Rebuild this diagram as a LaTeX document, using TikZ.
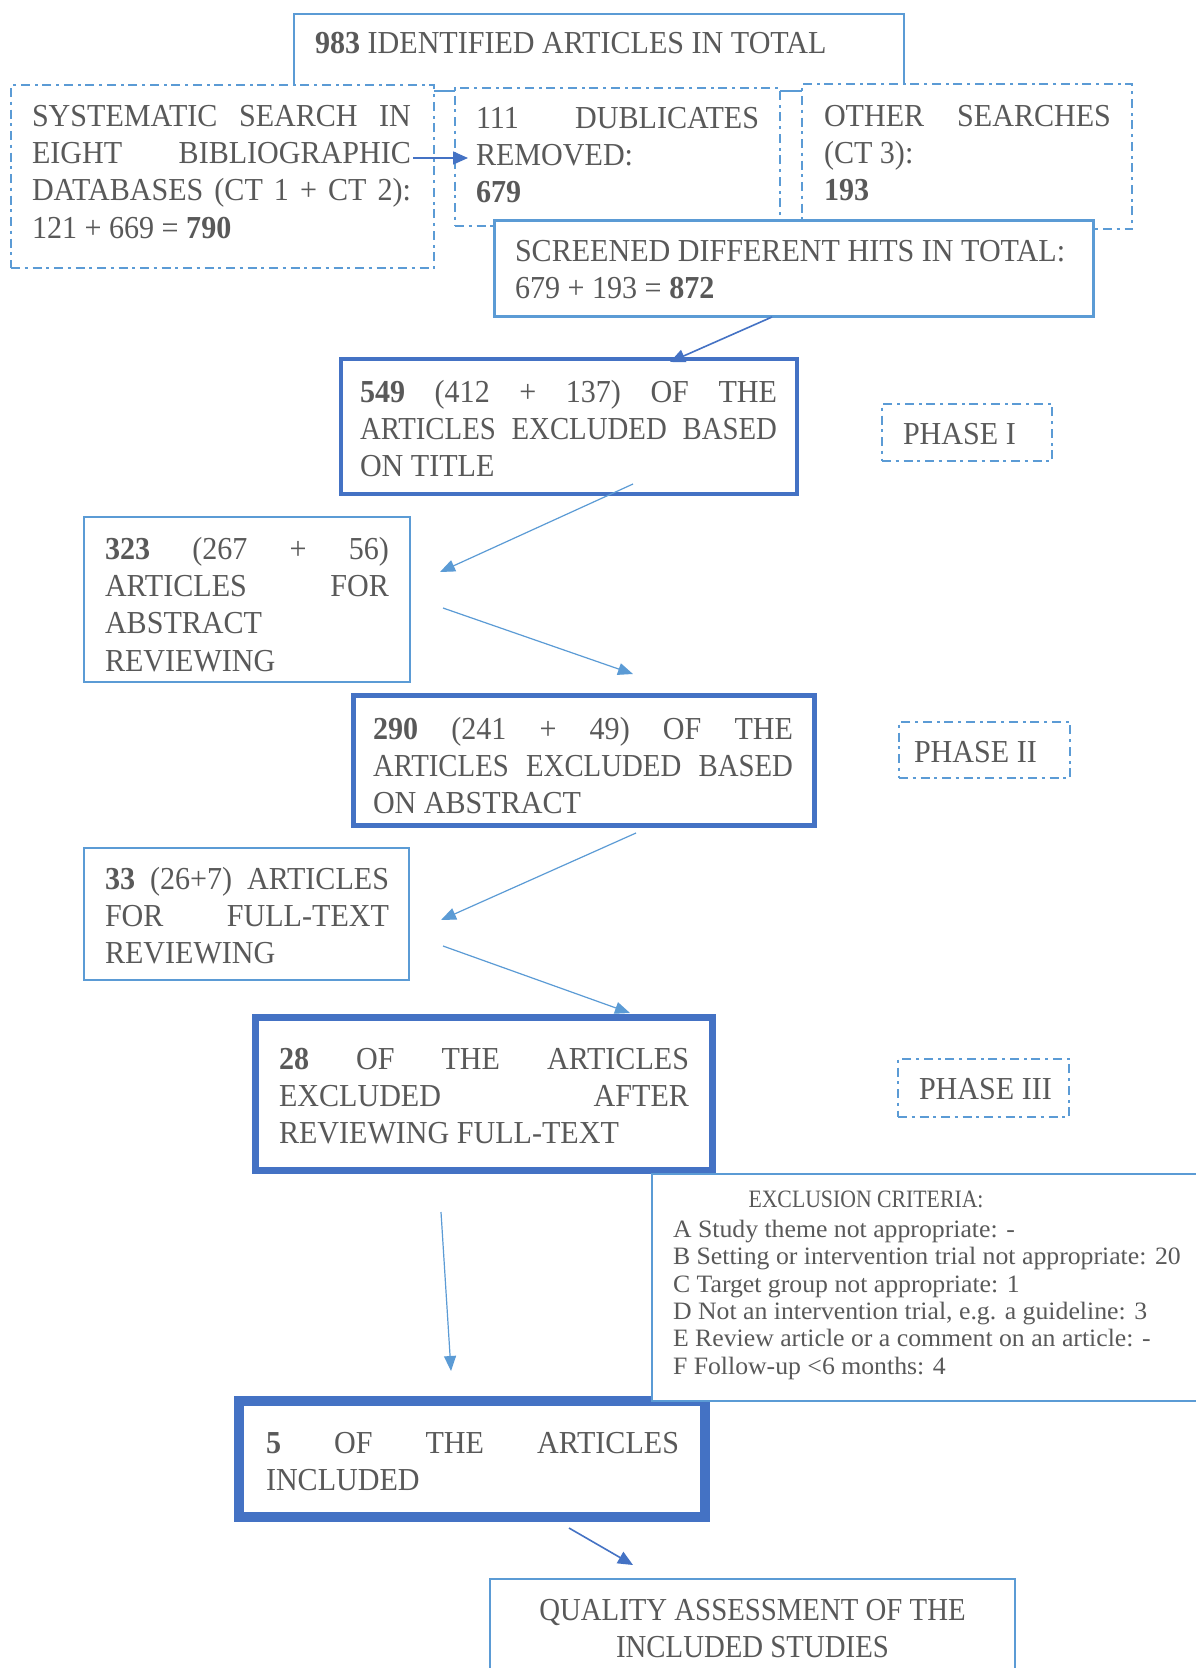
\documentclass[tikz,border=0pt]{standalone}
\usepackage{fontspec}
\setmainfont{Liberation Serif}[FakeStretch=0.94]
\newfontfamily\narrowfont{Liberation Serif}[FakeStretch=0.9]
\newfontfamily\exfont{Liberation Serif}[FakeStretch=1.03]
\newfontfamily\extitlefont{Liberation Serif}[FakeStretch=0.87]
\usetikzlibrary{arrows.meta}
\definecolor{lb}{HTML}{5B9BD5}
\definecolor{db}{HTML}{4472C4}
\definecolor{tx}{HTML}{595959}
\newcommand{\jl}[2]{\makebox[#1pt][s]{#2}}
\begin{document}
\begin{tikzpicture}[x=1pt,y=-1pt,
  box/.style={draw=lb, fill=white, inner sep=0pt, outer sep=0pt, line width=2.5pt},
  dbox/.style={box, line width=2pt, dash pattern=on 9pt off 4.5pt on 3pt off 5pt},
  thick box/.style={box, draw=db},
  txt/.style={inner sep=0pt, outer sep=0pt, anchor=north west, align=left, text=tx,
    font=\fontsize{32}{37.3}\selectfont},
  extxt/.style={inner sep=0pt, outer sep=0pt, text=tx, font=\exfont\fontsize{25}{27.4}\selectfont},
  arrd/.style={draw=db, line width=1.6pt, -{Triangle[length=15pt,width=13pt]}, db},
  arrl/.style={draw=lb, line width=1.2pt, -{Triangle[length=15pt,width=12pt]}, lb}]
\useasboundingbox (0,0) rectangle (1196,1668);
\fill[white] (0,0) rectangle (1196,1668);
\clip (0,0) rectangle (1196,1668);

% boxes
\node[box, minimum width=610pt, minimum height=77pt] (top) at (599,52.5) {};
\node[dbox, minimum width=423pt, minimum height=183pt] (sys) at (222.5,176.5) {};
\node[dbox, minimum width=325pt, minimum height=138pt] (dub) at (617.5,157) {};
\node[dbox, minimum width=330pt, minimum height=145pt] (oth) at (967,156.5) {};
\node[box, line width=3pt, minimum width=599pt, minimum height=96pt] (scr) at (793.5,268.5) {};
\node[thick box, line width=4pt, minimum width=456pt, minimum height=135pt] (b549) at (569,426.5) {};
\node[dbox, minimum width=170pt, minimum height=57pt] (ph1) at (967,432.5) {};
\node[box, minimum width=326pt, minimum height=165pt] (b323) at (247,599.5) {};
\node[thick box, line width=5pt, minimum width=461pt, minimum height=130pt] (b290) at (584,760.5) {};
\node[dbox, minimum width=171pt, minimum height=56pt] (ph2) at (984.5,750) {};
\node[box, minimum width=325pt, minimum height=132pt] (b33) at (246.5,914) {};
\node[thick box, line width=7pt, minimum width=457pt, minimum height=153pt] (b28) at (484,1094) {};
\node[dbox, minimum width=171pt, minimum height=58pt] (ph3) at (983.5,1088) {};
\node[thick box, line width=10pt, minimum width=466pt, minimum height=116pt] (b5) at (472,1459) {};
\node[box, minimum width=588pt, minimum height=227pt] (excl) at (946,1287.5) {};
\node[box, minimum width=525pt, minimum height=141pt] (qual) at (752.5,1649.5) {};

% texts
\node[txt] (topT) at (315,32) {\textbf{983} IDENTIFIED ARTICLES IN TOTAL};
\node[txt] (sysT) at (32,105) {\jl{379}{SYSTEMATIC SEARCH IN}\\ \jl{379}{EIGHT BIBLIOGRAPHIC}\\ \jl{379}{DATABASES (CT 1 + CT 2):}\\ 121 + 669 = \textbf{790}};
\node[txt] (dubT) at (476,107) {\jl{283}{111 DUBLICATES}\\ REMOVED:\\ \textbf{679}};
\node[txt] (othT) at (824,105) {\jl{287}{OTHER SEARCHES}\\ (CT 3):\\ \textbf{193}};
\node[txt] (scrT) at (515,240) {SCREENED DIFFERENT HITS IN TOTAL:\\ 679 + 193 = \textbf{872}};
\node[txt] (t549) at (360,380) {\jl{417}{\textbf{549} (412 + 137) OF THE}\\ \jl{417}{\narrowfont ARTICLES EXCLUDED BASED}\\ ON TITLE};
\node[txt] (ph1T) at (903,423) {PHASE I};
\node[txt] (t323) at (105,537) {\jl{284}{\textbf{323} (267 + 56)}\\ \jl{284}{ARTICLES FOR}\\ ABSTRACT\\ REVIEWING};
\node[txt] (t290) at (373,717) {\jl{420}{\textbf{290} (241 + 49) OF THE}\\ \jl{420}{\narrowfont ARTICLES EXCLUDED BASED}\\ ON ABSTRACT};
\node[txt] (ph2T) at (914,741) {PHASE II};
\node[txt] (t33) at (105,867) {\jl{284}{\textbf{33} (26+7) ARTICLES}\\ \jl{284}{FOR FULL-TEXT}\\ REVIEWING};
\node[txt] (t28) at (279,1048) {\jl{410}{\textbf{28} OF THE ARTICLES}\\ \jl{410}{EXCLUDED AFTER}\\ REVIEWING FULL-TEXT};
\node[txt] (ph3T) at (919,1078) {PHASE III};
\node[extxt, anchor=base, font=\extitlefont\fontsize{25}{27.4}\selectfont] (exTitle) at (866,1207) {EXCLUSION CRITERIA:};
\node[extxt, anchor=north west, align=left] (exList) at (673,1220) {A Study theme not appropriate: -\\ B Setting or intervention trial not appropriate: 20\\ C Target group not appropriate: 1\\ D Not an intervention trial, e.g. a guideline: 3\\ E Review article or a comment on an article: -\\ F Follow-up <6 months: 4};
\node[txt] (t5) at (266,1432) {\jl{413}{\textbf{5} OF THE ARTICLES}\\ INCLUDED};
\node[txt, anchor=north, align=center, font=\narrowfont\fontsize{32}{37.3}\selectfont] (qT) at (752.5,1599) {QUALITY ASSESSMENT OF THE\\ INCLUDED STUDIES};

% connectors
\coordinate (a1s) at (413,158);  \coordinate (a1e) at (468,158);
\coordinate (a2s) at (772,317);  \coordinate (a2e) at (670,362);
\coordinate (a3s) at (633,484);  \coordinate (a3e) at (440,572);
\coordinate (a4s) at (443,608);  \coordinate (a4e) at (633,674);
\coordinate (a5s) at (636,833);  \coordinate (a5e) at (441,920);
\coordinate (a6s) at (443,946);  \coordinate (a6e) at (630,1013);
\coordinate (a7s) at (441,1212); \coordinate (a7e) at (451,1371);
\coordinate (a8s) at (569,1528); \coordinate (a8e) at (633,1565);
\draw[arrd] (a1s) -- (a1e);
\draw[arrd] (a2s) -- (a2e);
\draw[arrl] (a3s) -- (a3e);
\draw[arrl] (a4s) -- (a4e);
\draw[arrl] (a5s) -- (a5e);
\draw[arrl] (a6s) -- (a6e);
\draw[arrl] (a7s) -- (a7e);
\draw[arrd] (a8s) -- (a8e);
\end{tikzpicture}
\end{document}
